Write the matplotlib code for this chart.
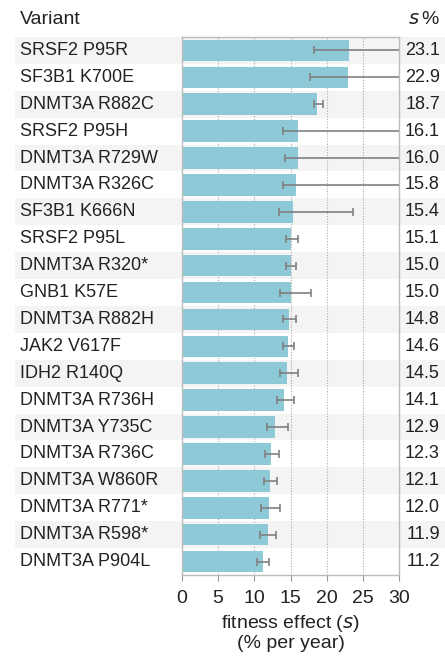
import matplotlib.pyplot as plt
import matplotlib.transforms as mtransforms
import numpy as np

plt.rcParams['font.family'] = ['Liberation Sans', 'DejaVu Sans']

# Variants, fitness effect s (% per year) and confidence interval bounds
variants = ['SRSF2 P95R', 'SF3B1 K700E', 'DNMT3A R882C', 'SRSF2 P95H',
            'DNMT3A R729W', 'DNMT3A R326C', 'SF3B1 K666N', 'SRSF2 P95L',
            'DNMT3A R320*', 'GNB1 K57E', 'DNMT3A R882H', 'JAK2 V617F',
            'IDH2 R140Q', 'DNMT3A R736H', 'DNMT3A Y735C', 'DNMT3A R736C',
            'DNMT3A W860R', 'DNMT3A R771*', 'DNMT3A R598*', 'DNMT3A P904L']
s_values = [23.1, 22.9, 18.7, 16.1, 16.0, 15.8, 15.4, 15.1, 15.0, 15.0,
            14.8, 14.6, 14.5, 14.1, 12.9, 12.3, 12.1, 12.0, 11.9, 11.2]
ci_low = [18.2, 17.75, 18.2, 13.9, 14.3, 13.9, 13.45, 14.4, 14.35, 13.55,
          14.0, 14.0, 13.55, 13.1, 11.75, 11.45, 11.35, 10.9, 10.8, 10.4]
ci_high = [32.0, 32.0, 19.45, 32.0, 32.0, 32.0, 23.7, 16.1, 15.8, 17.8,
           15.7, 15.45, 16.1, 15.45, 14.6, 13.4, 13.1, 13.5, 13.05, 12.05]
xticks = [0, 5, 10, 15, 20, 25, 30]

s = np.array(s_values)
y = np.arange(len(variants))
err = [s - np.array(ci_low), np.array(ci_high) - s]

fig = plt.figure(figsize=(4.45, 6.66), dpi=100)
ax = fig.add_axes([182 / 445, 1 - 575 / 666, 217 / 445, 538 / 666])

# alternating row shading across the whole width
x0 = (15 - 182) / 217
x1 = (445 - 182) / 217
for i in y[::2]:
    ax.axhspan(i - 0.5, i + 0.5, xmin=x0, xmax=x1, color='#f4f4f4',
               zorder=0, clip_on=False, lw=0)

for xv in xticks[1:-1]:
    ax.axvline(xv, color='#aaaaaa', lw=0.8, ls=(0, (1, 1.5)), zorder=0.5)

ax.barh(y, s, height=0.8, color='#8dc9d6', zorder=2)
ax.errorbar(s, y, xerr=err, fmt='none', ecolor='#808080', elinewidth=1.2,
            capsize=3, capthick=1.2, zorder=3)

ax.set_xlim(0, 30)
ax.set_ylim(len(variants) - 0.5, -0.5)
ax.set_yticks([])
ax.set_xticks(xticks)
ax.tick_params(axis='x', colors='#999999', length=4, labelsize=14,
               labelcolor='#222222', pad=7)
for sp in ax.spines.values():
    sp.set_color('#bbbbbb')
    sp.set_linewidth(1)
ax.set_facecolor('none')

row_trans = mtransforms.blended_transform_factory(fig.transFigure, ax.transData)
for i, (name, val) in enumerate(zip(variants, s_values)):
    ax.text(20 / 445, i, name, transform=row_trans, fontsize=13,
            color='#222222', va='center', ha='left')
    ax.text(440 / 445, i, '%.1f' % val, transform=row_trans, fontsize=13,
            color='#222222', va='center', ha='right')

fig.text(20 / 445, 1 - 20 / 666, 'Variant', fontsize=14, color='#222222',
         va='center', ha='left')
fig.text(440 / 445, 1 - 20 / 666, r'$s\,$%', fontsize=14, color='#222222',
         va='center', ha='right')

ax.set_xlabel('fitness effect ($s$)\n(% per year)', fontsize=14,
              color='#222222', labelpad=4, linespacing=1.1)

fig.savefig('out.png', dpi=100)
